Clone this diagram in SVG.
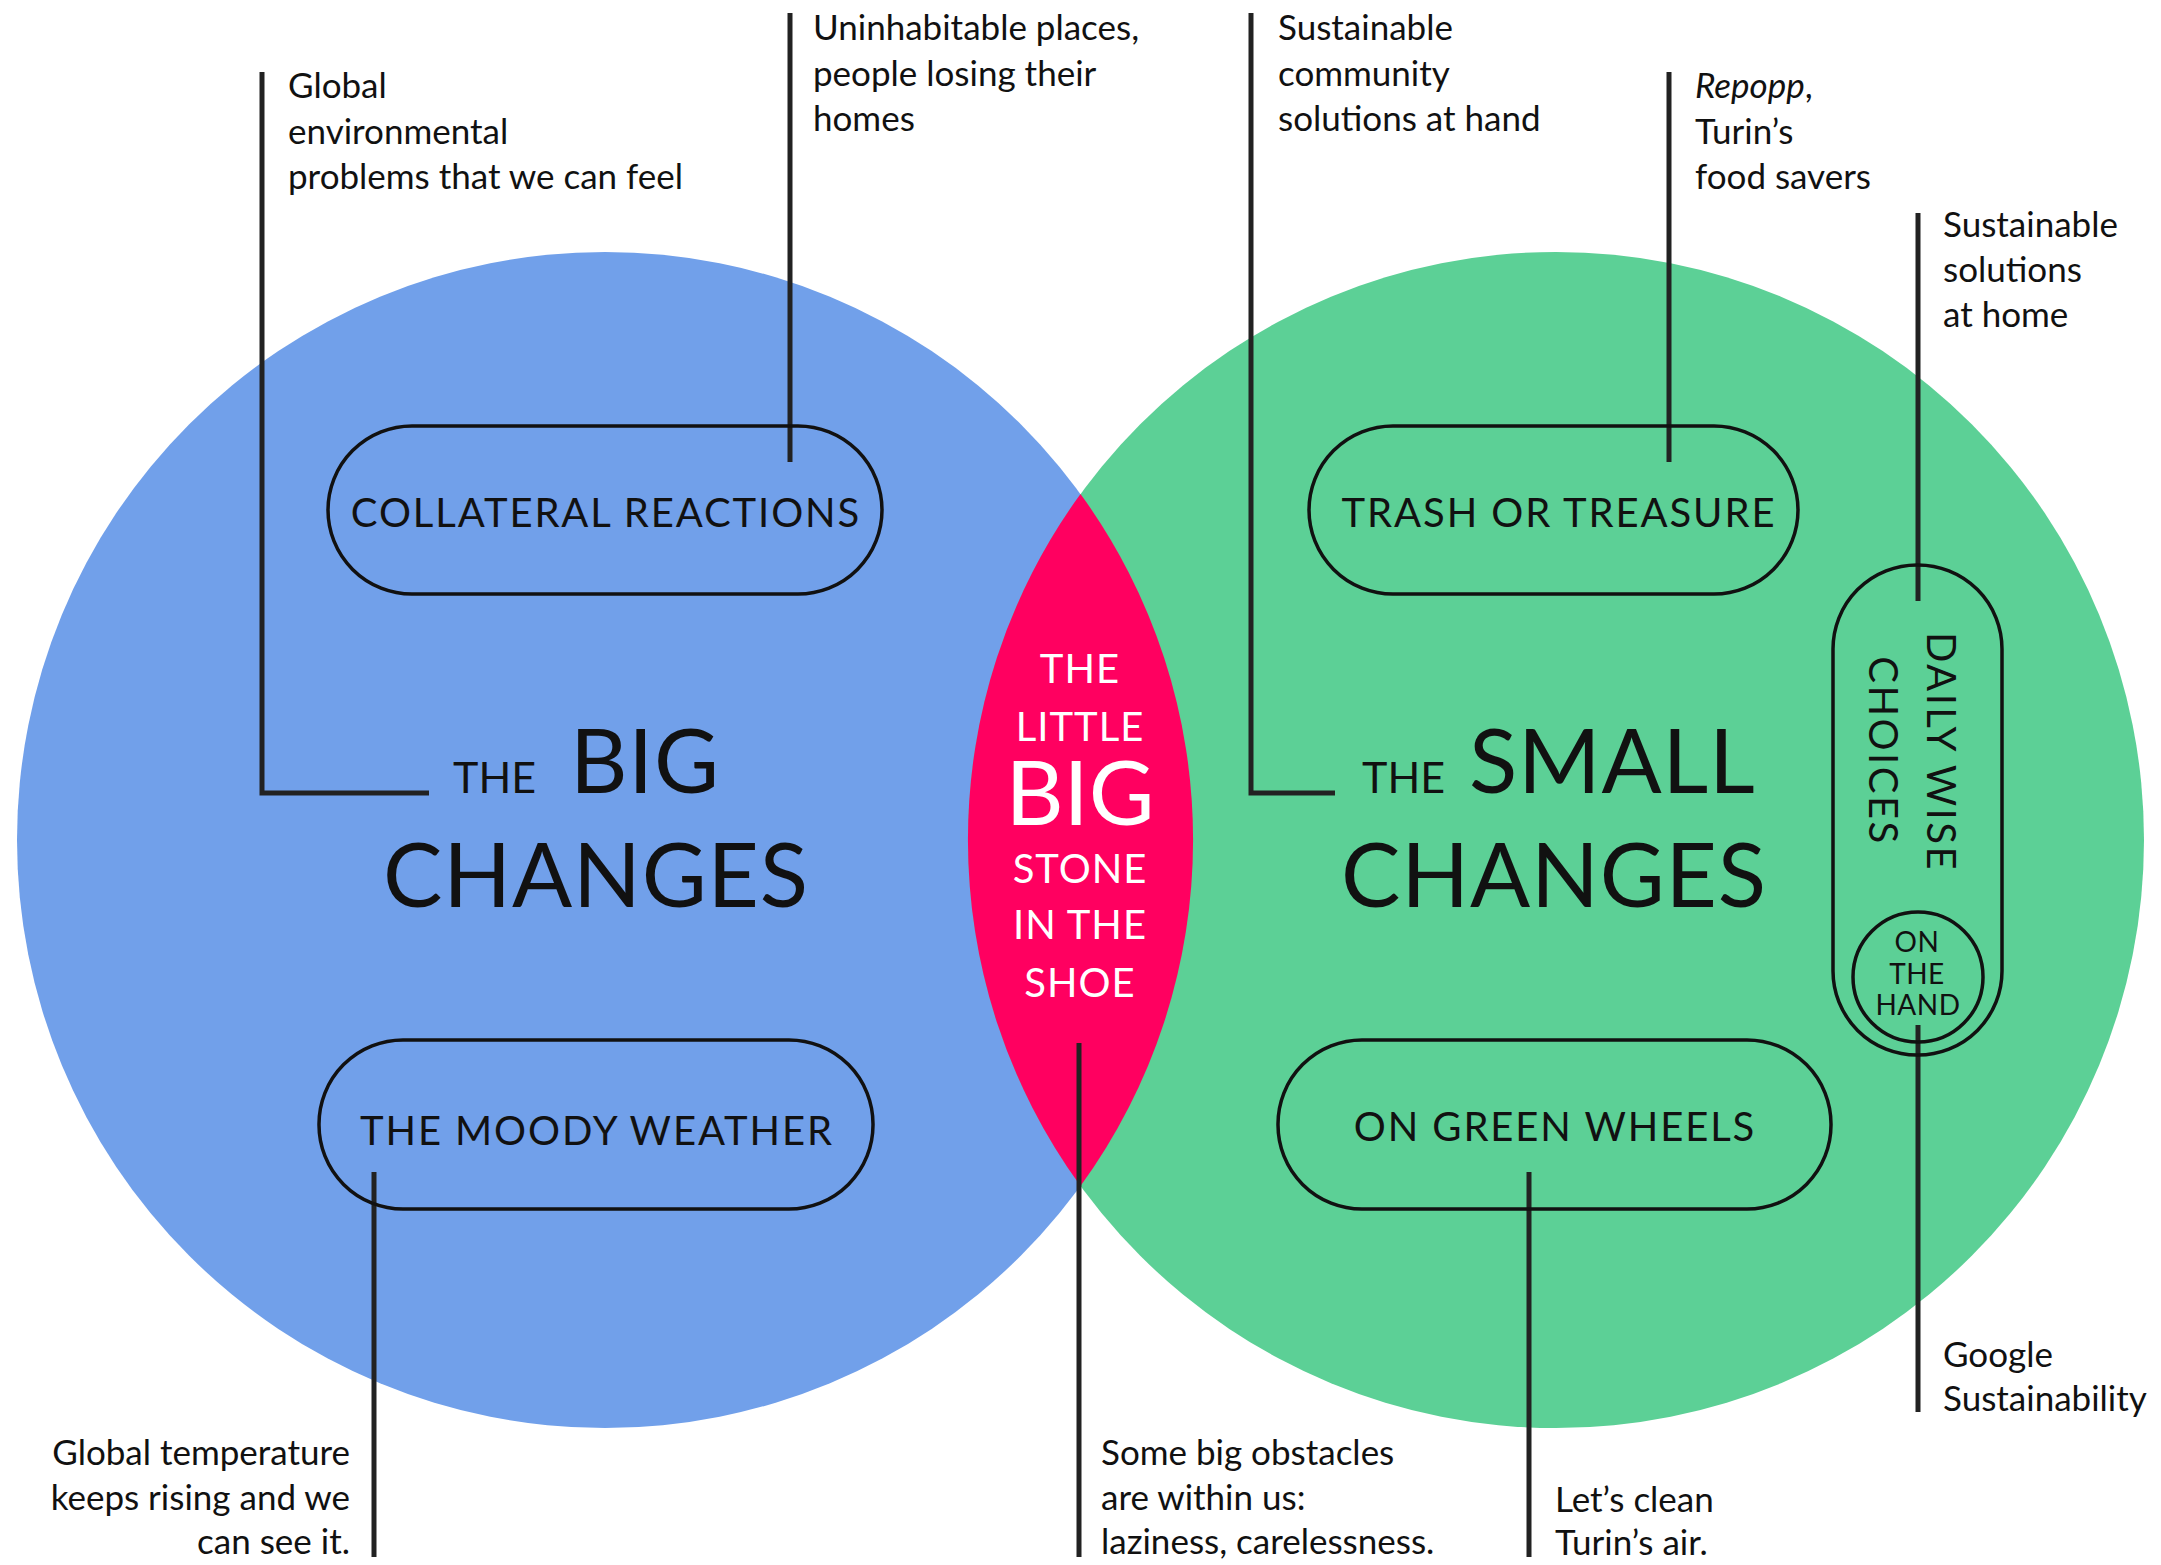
<svg xmlns="http://www.w3.org/2000/svg" width="2161" height="1565" viewBox="0 0 2161 1565">
<style>
  text { font-family: Lato, "Open Sans", "Liberation Sans", sans-serif; fill: #111; }
  .note { font-size: 35px; }
  .pilltxt { font-size: 40px; text-anchor: middle; letter-spacing: 1.9px; }
  .pill { fill: none; stroke: #111; stroke-width: 3.5; }
  .lead { fill: none; stroke: #222; stroke-width: 5; }
  .big { font-size: 89px; letter-spacing: 0.8px; }
  .the { font-size: 43px; }
  .lens { fill: #fff; text-anchor: middle; font-size: 40px; letter-spacing: 1px; }
  .hand { font-size: 28px; text-anchor: middle; letter-spacing: 0.5px; }
</style>
<rect width="2161" height="1565" fill="#fff"/>
<g id="circles">
  <circle id="big-circle" cx="605" cy="840" r="588" fill="#71A0EA"/>
  <circle id="small-circle" cx="1556" cy="840" r="588" fill="#5CD096"/>
  <path id="lens" d="M1080.5 494 A588 588 0 0 1 1080.5 1186 A588 588 0 0 1 1080.5 494 Z" fill="#FF0060"/>
</g>
<g id="connectors">
  <path class="lead" d="M262 72 V793 H429"/>
  <path class="lead" d="M790 13 V462"/>
  <path class="lead" d="M374 1172 V1557"/>
  <path class="lead" d="M1079 1043 V1557"/>
  <path class="lead" d="M1251 13 V793 H1335"/>
  <path class="lead" d="M1669 72 V462"/>
  <path class="lead" d="M1529 1172 V1557"/>
  <path class="lead" d="M1918 213 V601"/>
  <path class="lead" d="M1918 1025 V1412"/>
</g>
<g id="big-changes">
  <text x="453" y="793" class="the">THE</text>
  <text x="570" y="793" class="big">BIG</text>
  <text x="383" y="907" class="big">CHANGES</text>
</g>
<g id="small-changes">
  <text x="1362" y="793" class="the">THE</text>
  <text x="1469" y="793" class="big">SMALL</text>
  <text x="1341" y="907" class="big">CHANGES</text>
</g>
<g id="little-big-stone">
  <text x="1080" y="683" class="lens">THE</text>
  <text x="1080" y="741" class="lens">LITTLE</text>
  <text x="1080" y="825" class="lens" style="font-size:90px;letter-spacing:0">BIG</text>
  <text x="1080" y="883" class="lens">STONE</text>
  <text x="1080" y="939" class="lens">IN THE</text>
  <text x="1080" y="997" class="lens">SHOE</text>
</g>
<g id="collateral-reactions">
  <rect class="pill" x="328" y="426" width="554" height="168" rx="84"/>
  <text x="606" y="527" class="pilltxt">COLLATERAL REACTIONS</text>
</g>
<g id="moody-weather">
  <rect class="pill" x="319" y="1040" width="554" height="169" rx="84"/>
  <text x="597" y="1145" class="pilltxt">THE MOODY WEATHER</text>
</g>
<g id="trash-or-treasure">
  <rect class="pill" x="1309" y="426" width="489" height="168" rx="84"/>
  <text x="1559" y="527" class="pilltxt">TRASH OR TREASURE</text>
</g>
<g id="green-wheels">
  <rect class="pill" x="1278" y="1040" width="553" height="169" rx="84"/>
  <text x="1555" y="1141" class="pilltxt">ON GREEN WHEELS</text>
</g>
<g id="daily-wise-choices">
  <rect class="pill" x="1833" y="565" width="169" height="490" rx="84"/>
  <text transform="translate(1927 752) rotate(90)" class="pilltxt" style="letter-spacing:2.5px">DAILY WISE</text>
  <text transform="translate(1869 751) rotate(90)" class="pilltxt" style="letter-spacing:2.5px">CHOICES</text>
</g>
<g id="on-the-hand">
  <circle class="pill" cx="1918" cy="977" r="65"/>
  <text x="1917" y="952" class="hand">ON</text>
  <text x="1917" y="984" class="hand">THE</text>
  <text x="1918" y="1015" class="hand">HAND</text>
</g>
<g id="notes">
  <text class="note"><tspan x="288" y="98">Global</tspan><tspan x="288" y="144">environmental</tspan><tspan x="288" y="189">problems that we can feel</tspan></text>
  <text class="note"><tspan x="813" y="40">Uninhabitable places,</tspan><tspan x="813" y="86">people losing their</tspan><tspan x="813" y="131">homes</tspan></text>
  <text class="note"><tspan x="1278" y="40">Sustainable</tspan><tspan x="1278" y="86">community</tspan><tspan x="1278" y="131">solutions at hand</tspan></text>
  <text class="note"><tspan x="1695" y="98" font-style="italic">Repopp</tspan><tspan>,</tspan><tspan x="1695" y="144">Turin’s</tspan><tspan x="1695" y="189">food savers</tspan></text>
  <text class="note"><tspan x="1943" y="237">Sustainable</tspan><tspan x="1943" y="282">solutions</tspan><tspan x="1943" y="327">at home</tspan></text>
  <text class="note"><tspan x="1943" y="1367">Google</tspan><tspan x="1943" y="1411">Sustainability</tspan></text>
  <text class="note" text-anchor="end"><tspan x="350" y="1465">Global temperature</tspan><tspan x="350" y="1510">keeps rising and we</tspan><tspan x="350" y="1554">can see it.</tspan></text>
  <text class="note"><tspan x="1101" y="1465">Some big obstacles</tspan><tspan x="1101" y="1510">are within us:</tspan><tspan x="1101" y="1554">laziness, carelessness.</tspan></text>
  <text class="note"><tspan x="1555" y="1512">Let’s clean</tspan><tspan x="1555" y="1555">Turin’s air.</tspan></text>
</g>
</svg>
